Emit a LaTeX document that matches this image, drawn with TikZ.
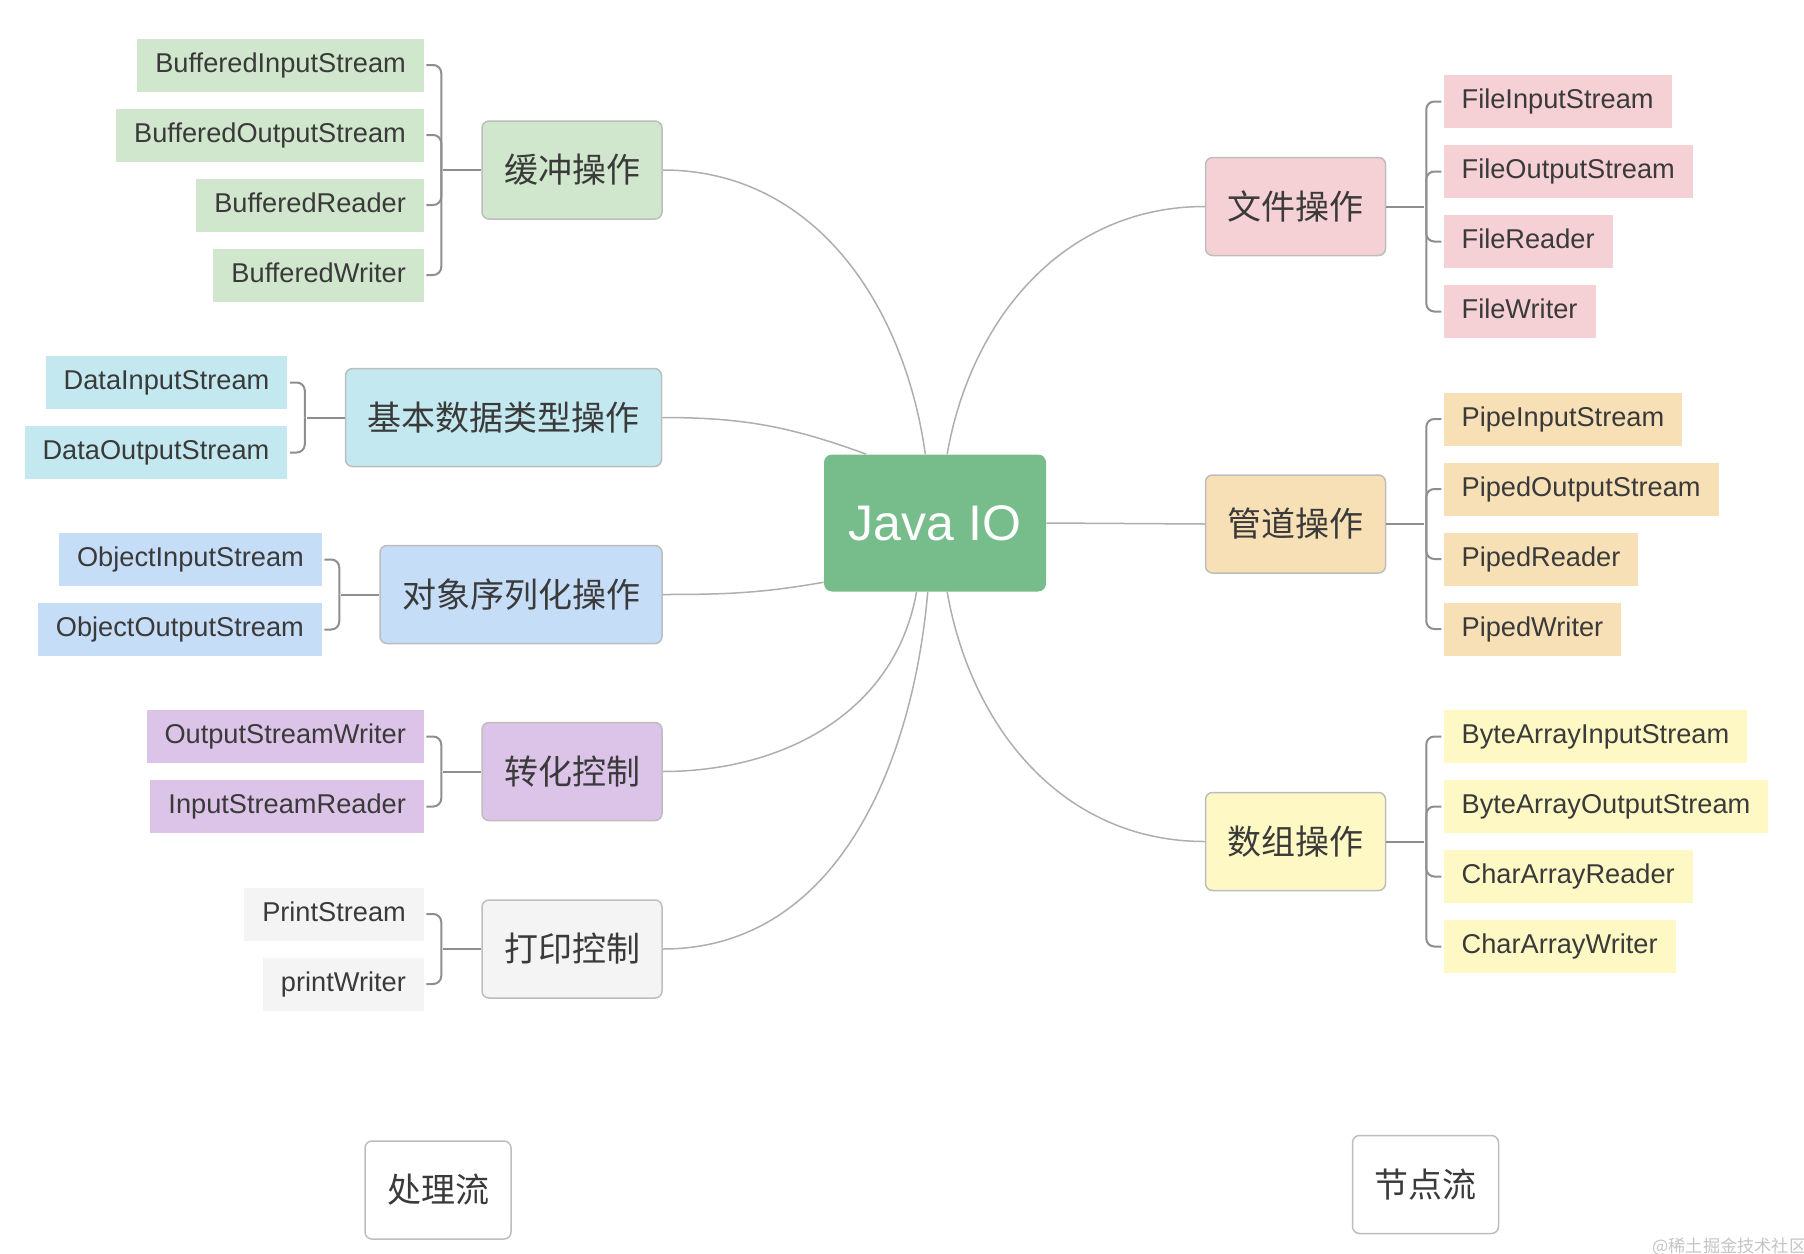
\documentclass[tikz,border=0pt]{standalone}
\usepackage{fontspec}
\setmainfont{Liberation Sans}
\newfontfamily\cjk{Noto Sans CJK SC}
\usepackage{tikz}
\usetikzlibrary{positioning}

\definecolor{hubgreen}{HTML}{76BD8B}
\definecolor{bufgreen}{HTML}{D1E7CD}
\definecolor{datacyan}{HTML}{C3E8EF}
\definecolor{objblue}{HTML}{C6DDF8}
\definecolor{convpurple}{HTML}{DCC4E8}
\definecolor{printgray}{HTML}{F4F4F4}
\definecolor{filepink}{HTML}{F5D0D5}
\definecolor{pipeorange}{HTML}{F8E0B6}
\definecolor{arryellow}{HTML}{FEF9C4}
\definecolor{ink}{HTML}{3A3A3A}
\definecolor{boxline}{HTML}{BDBDBD}
\definecolor{linkgray}{HTML}{AEAEAE}
\definecolor{bracegray}{HTML}{8E8E8E}
\definecolor{markgray}{HTML}{C4C4C4}

\begin{document}
\begin{tikzpicture}[x=0.5pt, y=-0.5pt,
   hub/.style={fill=hubgreen, text=white, rounded corners=4pt, minimum width=111pt, minimum height=68.5pt, font=\fontsize{25}{30}\selectfont},
   topic/.style={draw=boxline, line width=0.75pt, rounded corners=3.5pt, inner xsep=11pt, minimum height=49pt, text=ink, font=\cjk\fontsize{17}{20}\selectfont},
   leaf/.style={inner xsep=9pt, minimum height=26.5pt, text height=10pt, text depth=3pt, text=ink, font=\fontsize{13.6}{16}\selectfont},
   link/.style={draw=linkgray, line width=0.75pt},
   brace/.style={draw=bracegray, line width=1pt, rounded corners=4pt, shorten >=1pt}]

   \useasboundingbox (0,0) rectangle (1804,1253);

   \node[hub] (hub) at (935,523) {Java IO};

   \node[topic, fill=bufgreen] (buf) at (572,170) {缓冲操作};
   \node[topic, fill=datacyan] (data) at (503.5,417.5) {基本数据类型操作};
   \node[topic, fill=objblue] (obj) at (521,594.5) {对象序列化操作};
   \node[topic, fill=convpurple] (conv) at (572,771.5) {转化控制};
   \node[topic, fill=printgray] (print) at (572,949) {打印控制};
   \node[topic, fill=filepink] (file) at (1295.5,206.5) {文件操作};
   \node[topic, fill=pipeorange] (pipe) at (1295.5,524) {管道操作};
   \node[topic, fill=arryellow] (arr) at (1295.5,841.5) {数组操作};

   \node[leaf, fill=bufgreen, left=28.5pt of buf, yshift=52.5pt] (bis) {BufferedInputStream};
   \node[leaf, fill=bufgreen, left=28.5pt of buf, yshift=17.5pt] (bos) {BufferedOutputStream};
   \node[leaf, fill=bufgreen, left=28.5pt of buf, yshift=-17.5pt] (br) {BufferedReader};
   \node[leaf, fill=bufgreen, left=28.5pt of buf, yshift=-52.5pt] (bw) {BufferedWriter};

   \node[leaf, fill=datacyan, left=28.5pt of data, yshift=17.5pt] (dis) {DataInputStream};
   \node[leaf, fill=datacyan, left=28.5pt of data, yshift=-17.5pt] (dos) {DataOutputStream};

   \node[leaf, fill=objblue, left=28.5pt of obj, yshift=17.5pt] (ois) {ObjectInputStream};
   \node[leaf, fill=objblue, left=28.5pt of obj, yshift=-17.5pt] (oos) {ObjectOutputStream};

   \node[leaf, fill=convpurple, left=28.5pt of conv, yshift=17.5pt] (osw) {OutputStreamWriter};
   \node[leaf, fill=convpurple, left=28.5pt of conv, yshift=-17.5pt] (isr) {InputStreamReader};

   \node[leaf, fill=printgray, left=28.5pt of print, yshift=17.5pt] (ps) {PrintStream};
   \node[leaf, fill=printgray, left=28.5pt of print, yshift=-17.5pt] (prw) {printWriter};

   \node[leaf, fill=filepink, right=28.5pt of file, yshift=52.5pt] (fis) {FileInputStream};
   \node[leaf, fill=filepink, right=28.5pt of file, yshift=17.5pt] (fos) {FileOutputStream};
   \node[leaf, fill=filepink, right=28.5pt of file, yshift=-17.5pt] (fr) {FileReader};
   \node[leaf, fill=filepink, right=28.5pt of file, yshift=-52.5pt] (fw) {FileWriter};

   \node[leaf, fill=pipeorange, right=28.5pt of pipe, yshift=52.5pt] (pis) {PipeInputStream};
   \node[leaf, fill=pipeorange, right=28.5pt of pipe, yshift=17.5pt] (pos) {PipedOutputStream};
   \node[leaf, fill=pipeorange, right=28.5pt of pipe, yshift=-17.5pt] (pdr) {PipedReader};
   \node[leaf, fill=pipeorange, right=28.5pt of pipe, yshift=-52.5pt] (pdw) {PipedWriter};

   \node[leaf, fill=arryellow, right=28.5pt of arr, yshift=52.5pt] (bais) {ByteArrayInputStream};
   \node[leaf, fill=arryellow, right=28.5pt of arr, yshift=17.5pt] (baos) {ByteArrayOutputStream};
   \node[leaf, fill=arryellow, right=28.5pt of arr, yshift=-17.5pt] (car) {CharArrayReader};
   \node[leaf, fill=arryellow, right=28.5pt of arr, yshift=-52.5pt] (caw) {CharArrayWriter};

   \draw[link] (buf.east) to[out=0, in=98] (hub.98);
   \draw[link] (data.east) to[out=0, in=160] (hub.135);
   \draw[link] (obj.east) to[out=0, in=190] (hub.208);
   \draw[link] (conv.east) to[out=0, in=260] (hub.255);
   \draw[link] (print.east) to[out=0, in=265] (hub.264);
   \draw[link] (file.west) to[out=180, in=80] (hub.80);
   \draw[link] (pipe.west) -- (hub.east);
   \draw[link] (arr.west) to[out=180, in=280] (hub.280);

   \coordinate (bufj) at ([xshift=-20pt]buf.west);
   \draw[brace] (buf.west) -- (bufj);
   \draw[brace] (bufj) |- (bis.east);
   \draw[brace] (bufj) |- (bos.east);
   \draw[brace] (bufj) |- (br.east);
   \draw[brace] (bufj) |- (bw.east);

   \coordinate (dataj) at ([xshift=-20pt]data.west);
   \draw[brace] (data.west) -- (dataj);
   \draw[brace] (dataj) |- (dis.east);
   \draw[brace] (dataj) |- (dos.east);

   \coordinate (objj) at ([xshift=-20pt]obj.west);
   \draw[brace] (obj.west) -- (objj);
   \draw[brace] (objj) |- (ois.east);
   \draw[brace] (objj) |- (oos.east);

   \coordinate (convj) at ([xshift=-20pt]conv.west);
   \draw[brace] (conv.west) -- (convj);
   \draw[brace] (convj) |- (osw.east);
   \draw[brace] (convj) |- (isr.east);

   \coordinate (printj) at ([xshift=-20pt]print.west);
   \draw[brace] (print.west) -- (printj);
   \draw[brace] (printj) |- (ps.east);
   \draw[brace] (printj) |- (prw.east);

   \coordinate (filej) at ([xshift=20pt]file.east);
   \draw[brace] (file.east) -- (filej);
   \draw[brace] (filej) |- (fis.west);
   \draw[brace] (filej) |- (fos.west);
   \draw[brace] (filej) |- (fr.west);
   \draw[brace] (filej) |- (fw.west);

   \coordinate (pipej) at ([xshift=20pt]pipe.east);
   \draw[brace] (pipe.east) -- (pipej);
   \draw[brace] (pipej) |- (pis.west);
   \draw[brace] (pipej) |- (pos.west);
   \draw[brace] (pipej) |- (pdr.west);
   \draw[brace] (pipej) |- (pdw.west);

   \coordinate (arrj) at ([xshift=20pt]arr.east);
   \draw[brace] (arr.east) -- (arrj);
   \draw[brace] (arrj) |- (bais.west);
   \draw[brace] (arrj) |- (baos.west);
   \draw[brace] (arrj) |- (car.west);
   \draw[brace] (arrj) |- (caw.west);

   \node[topic, fill=white] (proc) at (438,1190) {处理流};
   \node[topic, fill=white] (nodestream) at (1425.5,1184.5) {节点流};

   \node[anchor=north west, inner sep=0pt, text=markgray, font=\cjk\fontsize{8.6}{10}\selectfont] (mark) at (1652,1237) {@稀土掘金技术社区};
\end{tikzpicture}
\end{document}
